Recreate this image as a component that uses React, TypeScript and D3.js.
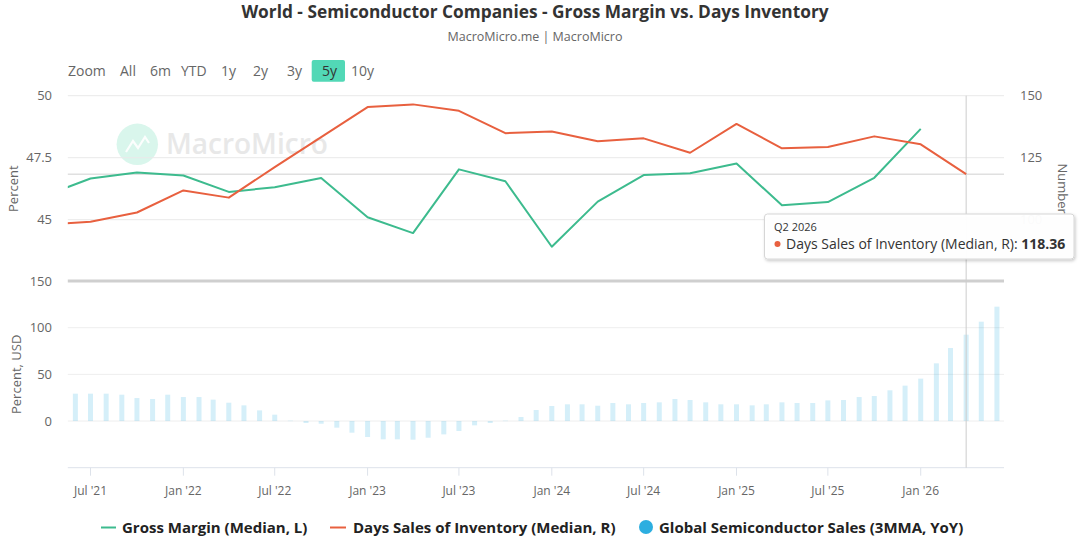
import React from "react";
import * as d3 from "d3";

// ---------- DATA ----------
const quarterDates = [
  "2021-04-01", "2021-07-01", "2021-10-01",
  "2022-01-01", "2022-04-01", "2022-07-01", "2022-10-01",
  "2023-01-01", "2023-04-01", "2023-07-01", "2023-10-01",
  "2024-01-01", "2024-04-01", "2024-07-01", "2024-10-01",
  "2025-01-01", "2025-04-01", "2025-07-01", "2025-10-01",
  "2026-01-01", "2026-04-01",
];
const grossMargin = [
  45.96, 46.66, 46.9,
  46.78, 46.12, 46.31, 46.68,
  45.1, 44.46, 47.03, 46.55,
  43.91, 45.73, 46.8, 46.87,
  47.27, 45.58, 45.71, 46.69,
  48.66,
];
const daysInventory = [
  98.1, 99.15, 102.9,
  111.8, 108.9, 121.2, 133.3,
  145.4, 146.5, 143.9, 134.9,
  135.6, 131.6, 132.8, 127.0,
  138.6, 128.8, 129.3, 133.6,
  130.4, 118.36,
];
const salesStartMonth = "2021-06-01";
const semiSales = [
  29.3, 29.3, 29.3, 28.2, 24.6, 23.6, 28.2,
  25.7, 25.7, 22.9, 19.6, 16.8, 11.4, 6.8, 0.4, -2.1, -2.9, -7.1, -12.5,
  -17.1, -19.6, -19.6, -20.0, -17.9, -14.3, -10.7, -4.6, -2.1, 0.4, 4.3, 11.8,
  16.1, 17.9, 17.9, 16.4, 19.3, 17.9, 19.3, 20.0, 23.6, 22.5, 20.0, 17.9,
  17.9, 16.8, 17.9, 20.0, 19.3, 19.3, 22.1, 22.5, 25.7, 26.8, 32.9, 37.9,
  45.4, 61.8, 78.2, 92.5, 106.4, 122.5,
];
const xTickDates = [
  "2021-07-01", "2022-01-01", "2022-07-01", "2023-01-01", "2023-07-01",
  "2024-01-01", "2024-07-01", "2025-01-01", "2025-07-01", "2026-01-01",
];
const xTickLabels = [
  "Jul '21", "Jan '22", "Jul '22", "Jan '23", "Jul '23",
  "Jan '24", "Jul '24", "Jan '25", "Jul '25", "Jan '26",
];
const leftTicks = [45, 47.5, 50];
const rightTicks = [100, 125, 150];
const bottomTicks = [0, 50, 100, 150];
const rangeButtons = ["All", "6m", "YTD", "1y", "2y", "3y", "5y", "10y"];
const selectedRange = "5y";
const tooltipLabel = "Q2 2026";
const tooltipSeries = "Days Sales of Inventory (Median, R)";
const tooltipValue = 118.36;

const COLORS = {
  green: "#3dbb8e",
  red: "#e8603f",
  blue: "#2caee0",
  grid: "#e9e9e9",
  text: "#666666",
};

const FONT = "'Open Sans', 'Noto Sans', sans-serif";

const parse = (s: string) => new Date(s + "T00:00:00Z");

export default function App() {
  const W = 1080;
  const H = 540;
  const left = 67.8;
  const right = 1004;
  const topY0 = 95.7;
  const topY1 = 281.7;
  const botY0 = 281;
  const botY1 = 467.7;

  const x = d3
    .scaleUtc()
    .domain([parse("2021-05-17"), parse("2026-06-15")])
    .range([left, right]);
  const yL = d3.scaleLinear().domain([42.5, 50]).range([topY1, topY0]);
  const yR = d3.scaleLinear().domain([75, 150]).range([topY1, topY0]);
  const yB = d3.scaleLinear().domain([-50, 150]).range([botY1, botY0]);

  const qd = quarterDates.map(parse);
  const gmPts: [number, number][] = grossMargin.map((v, i) => [x(qd[i]), yL(v)]);
  const diPts: [number, number][] = daysInventory.map((v, i) => [x(qd[i]), yR(v)]);
  const line = d3.line();

  const start = parse(salesStartMonth);
  const salesBars = semiSales.map((v, i) => {
    const d = d3.utcMonth.offset(start, i);
    return { d, v };
  });
  const barW = 5;

  const hoverDate = qd[qd.length - 1];
  const hx = x(hoverDate);
  const hy = yR(tooltipValue);

  const btnX: Record<string, number> = {
    All: 120, "6m": 150, YTD: 181, "1y": 221, "2y": 253, "3y": 287, "5y": 322, "10y": 351,
  };

  return (
    <svg
      width={W}
      height={H}
      viewBox={`0 0 ${W} ${H}`}
      style={{ position: "absolute", left: 0, top: 0, background: "#fff" }}
      fontFamily={FONT}
    >
      <defs>
        <clipPath id="plotClip">
          <rect x={left} y={topY0 - 10} width={right - left} height={botY1 - topY0 + 10} />
        </clipPath>
        <filter id="tipShadow" x="-10%" y="-30%" width="120%" height="160%">
          <feDropShadow dx="1" dy="1.5" stdDeviation="1.6" floodColor="#000" floodOpacity="0.22" />
        </filter>
      </defs>
      <rect x={0} y={0} width={W} height={H} fill="#fff" />

      {/* Title */}
      <text x={535} y={18} textAnchor="middle" fontSize={17.3} fontWeight={700} fill="#333">
        World - Semiconductor Companies - Gross Margin vs. Days Inventory
      </text>
      <text x={535} y={41} textAnchor="middle" fontSize={12.5} fill="#666">
        MacroMicro.me | MacroMicro
      </text>

      {/* Range selector */}
      <text x={68} y={75.5} fontSize={14} fill="#666">Zoom</text>
      <rect x={311.7} y={60} width={33.3} height={21.7} rx={2} fill="#52d8b6" />
      {rangeButtons.map((b) => (
        <text key={b} x={btnX[b]} y={75.5} fontSize={14} fill={b === selectedRange ? "#333" : "#666"}>
          {b}
        </text>
      ))}

      {/* Watermark */}
      <g>
        <circle cx={137.3} cy={144.3} r={20.7} fill="#d9f6ec" />
        <path
          d="M126 152 L133 141 L138 148 L145 137 L149 143"
          fill="none"
          stroke="#fff"
          strokeWidth={2.2}
          opacity={0.9}
        />
        <text x={166} y={154} fontSize={28} fill="#e8e8e8" fontWeight={600}>
          MacroMicro
        </text>
      </g>

      {/* Top panel grid */}
      {leftTicks.map((t) => (
        <line key={"gl" + t} x1={left} x2={right} y1={yL(t)} y2={yL(t)} stroke={COLORS.grid} strokeWidth={1} />
      ))}
      {leftTicks.map((t) => (
        <text key={"tl" + t} x={52} y={yL(t) + 4.5} textAnchor="end" fontSize={13} fill={COLORS.text}>
          {t}
        </text>
      ))}
      {rightTicks.map((t) => (
        <text key={"tr" + t} x={1020} y={yR(t) + 4.5} textAnchor="start" fontSize={13} fill={COLORS.text}>
          {t}
        </text>
      ))}
      <text
        transform={`translate(18, ${(topY0 + topY1) / 2}) rotate(-90)`}
        textAnchor="middle"
        fontSize={13}
        fill={COLORS.text}
      >
        Percent
      </text>
      <text
        transform={`translate(1058, ${(topY0 + topY1) / 2}) rotate(90)`}
        textAnchor="middle"
        fontSize={13}
        fill={COLORS.text}
      >
        Number
      </text>

      {/* Bottom panel grid */}
      {bottomTicks.slice(0, 3).map((t) => (
        <line key={"gb" + t} x1={left} x2={right} y1={yB(t)} y2={yB(t)} stroke="#eeeeee" strokeWidth={1} />
      ))}
      {bottomTicks.map((t) => (
        <text key={"tb" + t} x={52} y={yB(t) + 4.5} textAnchor="end" fontSize={13} fill={COLORS.text}>
          {t}
        </text>
      ))}
      <text
        transform={`translate(21, ${(botY0 + botY1) / 2}) rotate(-90)`}
        textAnchor="middle"
        fontSize={13}
        fill={COLORS.text}
      >
        Percent, USD
      </text>
      <line x1={left} x2={right} y1={yB(150)} y2={yB(150)} stroke="#cfcfcf" strokeWidth={3} />
      <line x1={left} x2={right} y1={botY1} y2={botY1} stroke="#dde2ea" strokeWidth={1} />
      {xTickDates.map((s, i) => {
        const tx = x(parse(s));
        return (
          <g key={s}>
            <line x1={tx} x2={tx} y1={botY1} y2={botY1 + 8} stroke="#dde2ea" strokeWidth={1} />
            <text x={tx} y={495} textAnchor="middle" fontSize={12} fill={COLORS.text}>
              {xTickLabels[i]}
            </text>
          </g>
        );
      })}

      {/* Bars */}
      <g clipPath="url(#plotClip)">
        {salesBars.map((b, i) => {
          const bx = x(b.d);
          const y0 = yB(0);
          const y1 = yB(b.v);
          return (
            <rect
              key={i}
              x={bx - barW / 2}
              y={Math.min(y0, y1)}
              width={barW}
              height={Math.max(0.5, Math.abs(y1 - y0))}
              fill={COLORS.blue}
              opacity={0.2}
            />
          );
        })}
      </g>

      {/* crosshairs */}
      <line x1={hx} x2={hx} y1={topY0} y2={botY1} stroke="#cccccc" strokeWidth={1} />
      <line x1={left} x2={right} y1={hy} y2={hy} stroke="#d0d0d0" strokeWidth={1} />

      {/* Lines */}
      <g clipPath="url(#plotClip)">
        <path d={line(gmPts) || ""} fill="none" stroke={COLORS.green} strokeWidth={2} strokeLinejoin="round" />
        <path d={line(diPts) || ""} fill="none" stroke={COLORS.red} strokeWidth={2} strokeLinejoin="round" />
      </g>

      {/* Tooltip */}
      <g>
        <rect
          x={764.5}
          y={214}
          width={309.5}
          height={45}
          rx={3}
          fill="rgba(255,255,255,0.97)"
          stroke="#d6d6d6"
          strokeWidth={1}
          filter="url(#tipShadow)"
        />
        <text x={774} y={231} fontSize={11} fill="#333">
          {tooltipLabel}
        </text>
        <circle cx={777.5} cy={244} r={3} fill={COLORS.red} />
        <text x={786} y={248.5} fontSize={14} fill="#333">
          {tooltipSeries + ": "}
          <tspan fontWeight={700}>{tooltipValue.toFixed(2)}</tspan>
        </text>
      </g>

      {/* Legend */}
      <g fontSize={15} fontWeight={700} fill="#222">
        <line x1={101} x2={116} y1={527.5} y2={527.5} stroke={COLORS.green} strokeWidth={2} />
        <text x={122} y={532.5}>Gross Margin (Median, L)</text>
        <line x1={330} x2={346} y1={527.5} y2={527.5} stroke={COLORS.red} strokeWidth={2} />
        <text x={353} y={532.5}>Days Sales of Inventory (Median, R)</text>
        <circle cx={646} cy={527} r={7} fill={COLORS.blue} />
        <text x={659} y={532.5}>Global Semiconductor Sales (3MMA, YoY)</text>
      </g>
    </svg>
  );
}
